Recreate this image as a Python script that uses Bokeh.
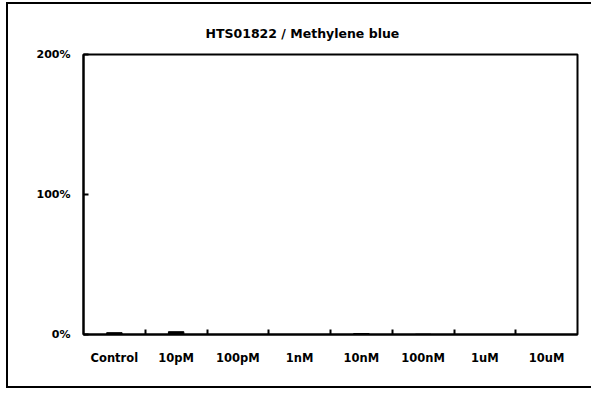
from bokeh.plotting import figure
from bokeh.models import FixedTicker, PrintfTickFormatter, Range1d, ColumnDataSource
from bokeh.embed import file_html
from bokeh.resources import INLINE

title_text = "HTS01822 / Methylene blue"
categories = ["Control", "10pM", "100pM", "1nM", "10nM", "100nM", "1uM", "10uM"]
values = [1.3, 2.0, 0.0, 0.0, 0.7, 0.2, 0.0, 0.0]
y_ticks = [0, 100, 200]

xs = list(range(1, len(categories) + 1))
src = ColumnDataSource(dict(x=xs, top=values))

p = figure(width=585, height=386, output_backend="svg", toolbar_location=None,
           x_range=Range1d(0.5, len(categories) + 0.5), y_range=Range1d(0, 200),
           min_border_left=75, min_border_right=16, min_border_top=50, min_border_bottom=56,
           title=title_text)
p.styles = {"border-left": "2px solid black", "border-top": "2px solid black",
            "border-bottom": "2px solid black", "margin-left": "6px", "margin-top": "2px"}

p.vbar(x="x", top="top", width=0.25, source=src, fill_color="black", line_color="black")

p.xgrid.visible = False
p.ygrid.visible = False
p.outline_line_color = "black"
p.outline_line_width = 2
p.background_fill_color = "white"
p.border_fill_color = "white"

p.title.text_font = "DejaVu Sans"
p.title.text_font_size = "12.5px"
p.title.text_font_style = "bold"
p.title.text_color = "black"
p.title.align = "left"
p.title.offset = 122
p.title.standoff = 28

xa = p.xaxis[0]
xa.ticker = FixedTicker(ticks=xs, minor_ticks=[i + 0.5 for i in xs[:-1]])
xa.major_label_overrides = {x: c for x, c in zip(xs, categories)}
xa.major_tick_in = 0
xa.major_tick_out = 0
xa.minor_tick_in = 5
xa.minor_tick_out = 0
xa.minor_tick_line_width = 2
xa.axis_line_width = 2
xa.major_label_text_font = "DejaVu Sans"
xa.major_label_text_font_size = "11.5px"
xa.major_label_text_font_style = "bold"
xa.major_label_text_color = "black"
xa.major_label_standoff = 16

ya = p.yaxis[0]
ya.ticker = FixedTicker(ticks=y_ticks)
ya.formatter = PrintfTickFormatter(format="%d%%")
ya.major_tick_in = 5
ya.major_tick_out = 0
ya.minor_tick_line_color = None
ya.major_tick_line_width = 2
ya.axis_line_width = 2
ya.major_label_text_font = "DejaVu Sans"
ya.major_label_text_font_size = "11px"
ya.major_label_text_font_style = "bold"
ya.major_label_text_color = "black"
ya.major_label_standoff = 13

open("out.html", "w").write(file_html(p, INLINE))
